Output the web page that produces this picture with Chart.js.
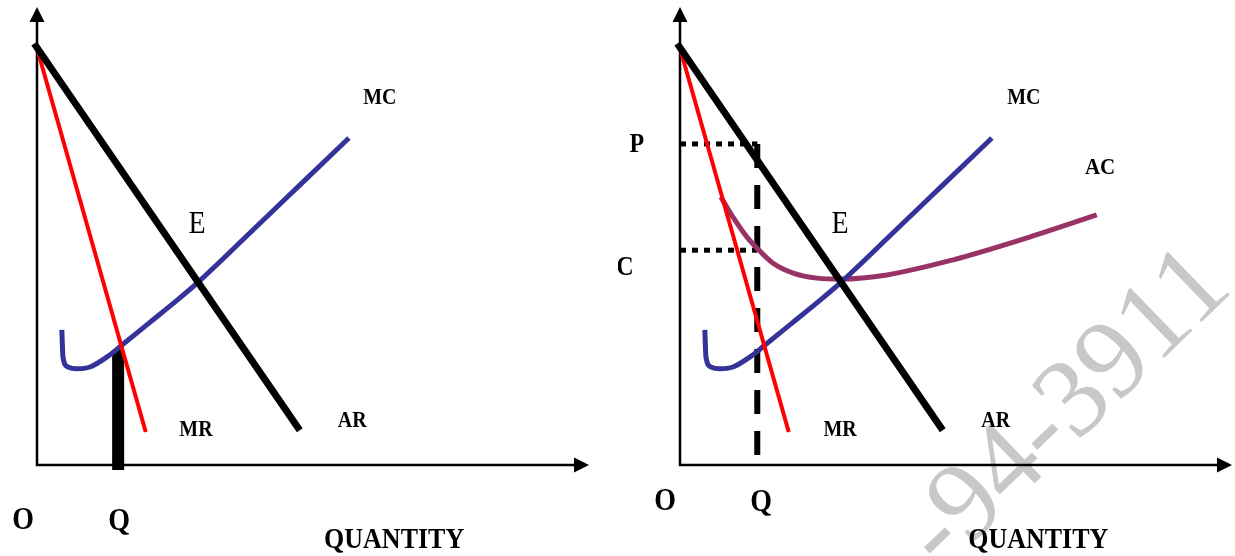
<!DOCTYPE html>
<html>
<head>
<meta charset="utf-8">
<title>MR = MC</title>
<script src="https://cdn.jsdelivr.net/npm/chart.js@4.4.1/dist/chart.umd.min.js"></script>
<style>
  html, body { margin: 0; padding: 0; background: #fff; }
  #wrap { position: relative; width: 1235px; height: 556px; overflow: hidden; }
  #wrap canvas { position: absolute; top: 0; }
  #left { left: 0; }
  #right { left: 618px; }
</style>
</head>
<body>
<div id="wrap">
  <canvas id="left" width="618" height="556"></canvas>
  <canvas id="right" width="617" height="556"></canvas>
</div>
<script>
// values: quantity 0-100 along x, price 0-100 up y
var arQty = [-0.5, 47.6];
var arPrice = [92, 7.6];
var mrQty = [0, 19.7];
var mrPrice = [91, 7.2];
var mcQty = [4.5, 4.7, 5.6, 7.2, 9.6, 12.7, 15.4, 20.5, 25.4, 29.0, 38.6, 47.6, 56.5];
var mcPrice = [29.5, 23.6, 21.4, 21.0, 21.4, 23.6, 26.2, 31.2, 36.0, 39.7, 50.7, 61.1, 71.4];
var acQty = [7.4, 9.6, 12.1, 13.9, 16.8, 20.5, 24.8, 29.2, 37.5, 49.5, 61.6, 75.5];
var acPrice = [58.5, 54.1, 49.8, 47.4, 44.1, 41.9, 40.8, 40.6, 41.5, 44.8, 49.1, 54.6];
var qLeft = [14.7, 14.7];
var qLeftPrice = [25.1, -1.1];
var qRight = 14.0;
var pPrice = 70.1;
var cPrice = 46.9;

var leftText = ['MC', 'E', 'MR', 'AR', 'O', 'Q', 'QUANTITY'];
var rightText = ['P', 'C', 'MC', 'AC', 'E', 'MR', 'AR', 'O', 'Q', 'QUANTITY'];
var watermark = '-94-3911';

function pts(xs, ys) {
  return xs.map(function(x, i) { return {x: x, y: ys[i]}; });
}

var serif = '"Liberation Serif", "Times New Roman", serif';

// where each label sits (data units) and how it looks
var leftLabelPos = [
  {x: 62.1, y: 80.1, font: 'bold 20px ' + serif},
  {x: 29.0, y: 52.4, font: '28px ' + serif},
  {x: 28.8, y: 7.6, font: 'bold 20px ' + serif},
  {x: 57.1, y: 9.6, font: 'bold 20px ' + serif},
  {x: -2.5, y: -12.2, font: 'bold 28px ' + serif},
  {x: 14.9, y: -12.4, font: 'bold 28px ' + serif},
  {x: 64.7, y: -16.4, font: 'bold 26px ' + serif}
];
var rightLabelPos = [
  {x: -7.8, y: 69.9, font: 'bold 24px ' + serif},
  {x: -10.0, y: 43.0, font: 'bold 24px ' + serif},
  {x: 62.3, y: 80.1, font: 'bold 20px ' + serif},
  {x: 76.1, y: 64.8, font: 'bold 21px ' + serif},
  {x: 29.0, y: 52.4, font: '28px ' + serif},
  {x: 29.0, y: 7.6, font: 'bold 20px ' + serif},
  {x: 57.2, y: 9.6, font: 'bold 20px ' + serif},
  {x: -2.7, y: -8.1, font: 'bold 28px ' + serif},
  {x: 14.7, y: -8.3, font: 'bold 28px ' + serif},
  {x: 64.9, y: -16.4, font: 'bold 26px ' + serif}
];

var diagram = {
  id: 'diagram',
  beforeDatasetsDraw: function(chart, args, opts) {
    var ctx = chart.ctx, xs = chart.scales.x, ys = chart.scales.y;
    if (opts.watermark) {
      ctx.save();
      ctx.translate(xs.getPixelForValue(74.0), ys.getPixelForValue(7.4));
      ctx.rotate(-44 * Math.PI / 180);
      ctx.font = '112px ' + serif;
      ctx.fillStyle = '#c8c8c8';
      ctx.textAlign = 'center';
      ctx.textBaseline = 'alphabetic';
      ctx.fillText(opts.watermark, 0, 0);
      ctx.restore();
    }
    // axes with arrow heads
    var x0 = xs.getPixelForValue(0), y0 = ys.getPixelForValue(0);
    var xEnd = xs.getPixelForValue(100), yEnd = ys.getPixelForValue(100);
    ctx.save();
    ctx.strokeStyle = '#000';
    ctx.fillStyle = '#000';
    ctx.lineWidth = 2.5;
    ctx.beginPath();
    ctx.moveTo(x0, yEnd + 12);
    ctx.lineTo(x0, y0);
    ctx.lineTo(xEnd - 12, y0);
    ctx.stroke();
    ctx.beginPath();
    ctx.moveTo(x0, yEnd);
    ctx.lineTo(x0 - 7.5, yEnd + 15);
    ctx.lineTo(x0 + 7.5, yEnd + 15);
    ctx.closePath();
    ctx.fill();
    ctx.beginPath();
    ctx.moveTo(xEnd, y0);
    ctx.lineTo(xEnd - 15, y0 - 7.5);
    ctx.lineTo(xEnd - 15, y0 + 7.5);
    ctx.closePath();
    ctx.fill();
    ctx.restore();
  },
  afterDatasetsDraw: function(chart, args, opts) {
    var ctx = chart.ctx, xs = chart.scales.x, ys = chart.scales.y;
    ctx.save();
    ctx.fillStyle = '#000';
    ctx.textAlign = 'center';
    ctx.textBaseline = 'middle';
    (opts.text || []).forEach(function(t, i) {
      var p = opts.pos[i];
      ctx.save();
      ctx.translate(xs.getPixelForValue(p.x), ys.getPixelForValue(p.y));
      ctx.scale(1, 1.12);
      ctx.font = p.font;
      ctx.fillText(t, 0, 0);
      ctx.restore();
    });
    ctx.restore();
  }
};

function line(data, color, width, extra) {
  var ds = {
    data: data,
    showLine: true,
    borderColor: color,
    borderWidth: width,
    borderCapStyle: 'butt',
    pointRadius: 0,
    pointHoverRadius: 0,
    tension: 0,
    clip: false
  };
  for (var k in extra) ds[k] = extra[k];
  return ds;
}

var smooth = { cubicInterpolationMode: 'monotone' };

function options(padLeft, padRight, text, pos, mark) {
  return {
    responsive: false,
    animation: false,
    events: [],
    layout: { autoPadding: false, padding: { left: padLeft, right: padRight, top: 7, bottom: 91 } },
    scales: {
      x: { type: 'linear', min: 0, max: 100, display: false },
      y: { type: 'linear', min: 0, max: 100, display: false }
    },
    plugins: {
      legend: { display: false },
      tooltip: { enabled: false },
      diagram: { text: text, pos: pos, watermark: mark }
    }
  };
}

new Chart(document.getElementById('left'), {
  type: 'scatter',
  data: {
    datasets: [
      line(pts(arQty, arPrice), '#000000', 7),
      line(pts(mrQty, mrPrice), '#ff0000', 4),
      line(pts(mcQty, mcPrice), '#333399', 5, smooth),
      line(pts(qLeft, qLeftPrice), '#000000', 12)
    ]
  },
  options: options(37, 29, leftText, leftLabelPos, null),
  plugins: [diagram]
});

new Chart(document.getElementById('right'), {
  type: 'scatter',
  data: {
    datasets: [
      line(pts(arQty, arPrice), '#000000', 7),
      line(pts(mrQty, mrPrice), '#ff0000', 4),
      line(pts(mcQty, mcPrice), '#333399', 5, smooth),
      line(pts(acQty, acPrice), '#993366', 5, smooth),
      line(pts([qRight, qRight], [pPrice, -0.4]), '#000000', 6, { borderDash: [24, 17] }),
      line(pts([0, qRight], [pPrice, pPrice]), '#000000', 5, { borderDash: [6, 6] }),
      line(pts([0, qRight], [cPrice, cPrice]), '#000000', 5, { borderDash: [6, 6] })
    ]
  },
  options: options(62, 3, rightText, rightLabelPos, watermark),
  plugins: [diagram]
});
</script>
</body>
</html>
